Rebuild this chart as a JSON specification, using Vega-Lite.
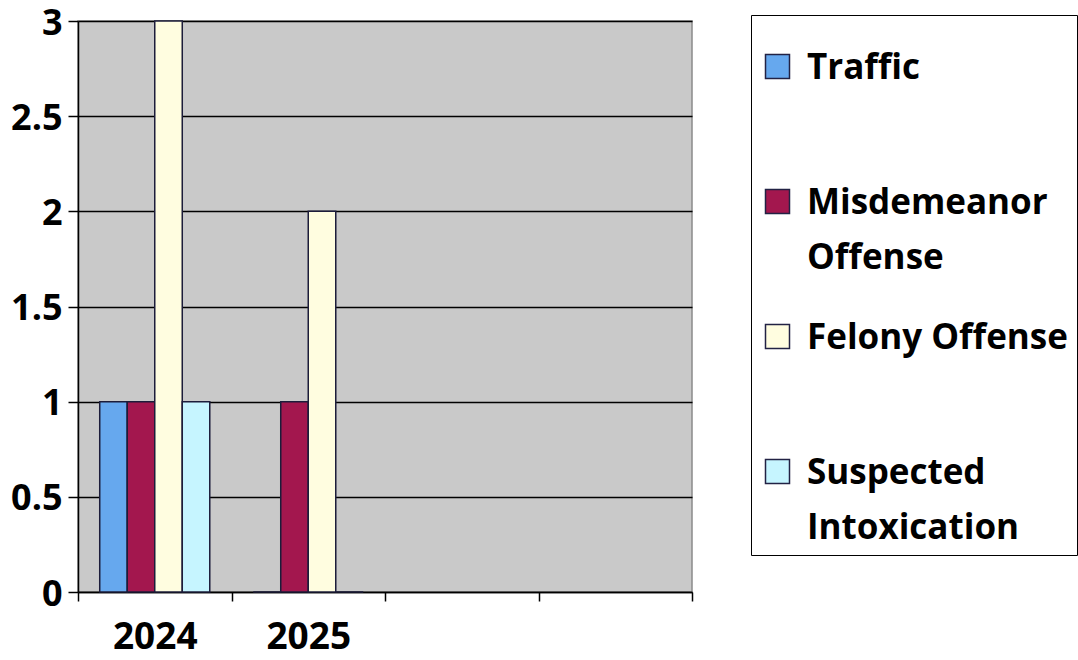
{
  "$schema": "https://vega.github.io/schema/vega-lite/v6.json",
  "autosize": "none",
  "width": 614,
  "height": 571,
  "padding": {"left": 78, "top": 21, "right": 386, "bottom": 68},
  "background": "white",
  "config": {
    "font": "Open Sans",
    "view": {"fill": "#c9c9c9", "stroke": "#8a8a8a", "strokeWidth": 1.5}
  },
  "data": {
    "values": [
      {"year": "2024", "category": "Traffic", "value": 1},
      {"year": "2024", "category": "Misdemeanor Offense", "value": 1},
      {"year": "2024", "category": "Felony Offense", "value": 3},
      {"year": "2024", "category": "Suspected Intoxication", "value": 1},
      {"year": "2025", "category": "Traffic", "value": 0},
      {"year": "2025", "category": "Misdemeanor Offense", "value": 1},
      {"year": "2025", "category": "Felony Offense", "value": 2},
      {"year": "2025", "category": "Suspected Intoxication", "value": 0}
    ]
  },
  "mark": {"type": "bar", "stroke": "#1c1c3a", "strokeWidth": 1.5},
  "encoding": {
    "x": {
      "field": "year",
      "type": "nominal",
      "scale": {"domain": ["2024", "2025", "c3", "c4"], "paddingInner": 0, "paddingOuter": 0},
      "axis": {
        "title": null,
        "labelAngle": 0,
        "labelExpr": "datum.value == '2024' || datum.value == '2025' ? datum.label : ''",
        "labelFont": "Open Sans",
        "labelFontSize": 37,
        "labelFontWeight": "bold",
        "labelColor": "black",
        "labelPadding": 18,
        "tickBand": "extent",
        "tickColor": "black",
        "tickSize": 9,
        "tickWidth": 1.5,
        "domainColor": "black",
        "domainWidth": 1.5
      }
    },
    "xOffset": {
      "field": "category",
      "type": "nominal",
      "sort": ["Traffic", "Misdemeanor Offense", "Felony Offense", "Suspected Intoxication"],
      "scale": {"paddingInner": 0, "paddingOuter": 0.79}
    },
    "y": {
      "field": "value",
      "type": "quantitative",
      "scale": {"domain": [0, 3], "nice": false},
      "axis": {
        "title": null,
        "values": [0, 0.5, 1, 1.5, 2, 2.5, 3],
        "format": "~g",
        "labelFont": "Open Sans",
        "labelFontSize": 36,
        "labelFontWeight": "bold",
        "labelColor": "black",
        "labelPadding": 6,
        "labelOffset": 2,
        "tickColor": "black",
        "tickSize": 10,
        "tickWidth": 1.5,
        "domainColor": "black",
        "domainWidth": 1.5,
        "grid": true,
        "gridColor": "black",
        "gridWidth": 1.5
      }
    },
    "color": {
      "field": "category",
      "type": "nominal",
      "sort": ["Traffic", "Misdemeanor Offense", "Felony Offense", "Suspected Intoxication"],
      "scale": {
        "domain": ["Traffic", "Misdemeanor Offense", "Felony Offense", "Suspected Intoxication"],
        "range": ["#66a8ee", "#a3174e", "#fffde0", "#c6f5ff"]
      },
      "legend": {
        "title": " ",
        "titleFontSize": 14,
        "titlePadding": 11,
        "orient": "none",
        "legendX": 673,
        "legendY": -6,
        "direction": "vertical",
        "padding": 9,
        "fillColor": "white",
        "strokeColor": "black",
        "symbolType": "square",
        "symbolSize": 576,
        "symbolStrokeColor": "#222244",
        "symbolStrokeWidth": 1.5,
        "symbolOpacity": 1,
        "labelFont": "Open Sans",
        "labelFontSize": 35,
        "labelFontWeight": "bold",
        "labelColor": "black",
        "labelLimit": 600,
        "labelOffset": 12,
        "labelBaseline": "top",
        "rowPadding": 43,
        "labelExpr": "datum.label == 'Misdemeanor Offense' ? ['Misdemeanor','Offense'] : datum.label == 'Suspected Intoxication' ? ['Suspected','Intoxication'] : [datum.label, '']",
        "encode": {
          "labels": {"update": {"lineHeight": {"value": 55}, "dy": {"value": -16}}}
        }
      }
    }
  }
}
